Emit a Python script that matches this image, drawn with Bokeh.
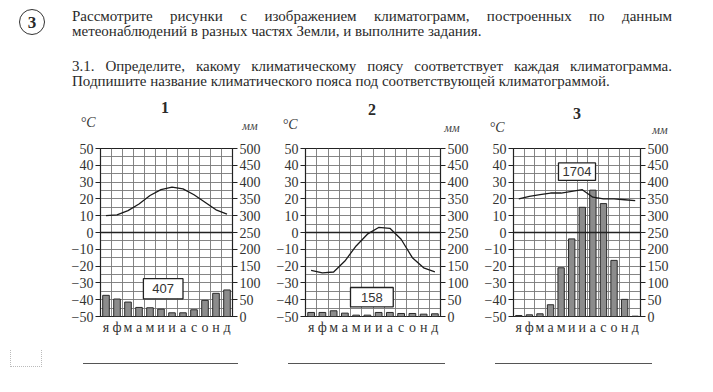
from bokeh.plotting import figure
from bokeh.models import Range1d, LinearAxis, FixedTicker, Span, Div
from bokeh.layouts import column, row
from bokeh.embed import file_html
from bokeh.resources import INLINE
from bokeh.core.properties import value

# ---------------- data ----------------
months = ["я", "ф", "м", "а", "м", "и", "и", "а", "с", "о", "н", "д"]
temp_ticks = [-50, -40, -30, -20, -10, 0, 10, 20, 30, 40, 50]
mm_ticks = [0, 50, 100, 150, 200, 250, 300, 350, 400, 450, 500]

temp_1 = [10, 10.5, 13, 17, 22, 25.5, 27, 26, 22.5, 18, 13.5, 11]
prec_1 = [63, 52, 43, 27, 26, 22, 11, 11, 20, 48, 69, 79]
total_1 = "407"

temp_2 = [-22.5, -24, -23.5, -17, -8, -1, 3, 2.5, -4, -15, -21, -23.5]
prec_2 = [12, 12, 17, 10, 4, 4, 12, 12, 9, 9, 7, 8]
total_2 = "158"

temp_3 = [20, 21.5, 22.5, 23.5, 23.5, 24.5, 25.5, 21, 20, 20, 19.5, 19]
prec_3 = [3, 5, 8, 35, 145, 231, 325, 376, 336, 167, 51, 1]
total_3 = "1704"

titles = ["1", "2", "3"]

SERIF_CSS = "'Liberation Serif', serif"
SERIF = "Liberation Serif"
NARROW = "Liberation Sans Narrow"


def chart(temps, precs, total, width, left, right, top, bottom, box):
    p = figure(width=width, height=215, output_backend="svg", toolbar_location=None,
               x_range=Range1d(0, 12), y_range=Range1d(-50, 50),
               min_border_left=left, min_border_right=right,
               min_border_top=top, min_border_bottom=bottom,
               background_fill_color="white", border_fill_color="white")
    p.outline_line_color = "#222222"
    p.outline_line_width = 1.2

    # grids
    p.xgrid.ticker = FixedTicker(ticks=list(range(0, 13)))
    p.ygrid.ticker = FixedTicker(ticks=list(range(-50, 51, 5)))
    for g in (p.xgrid, p.ygrid):
        g.grid_line_color = "#777777"
        g.grid_line_width = 0.9

    # x axis (months)
    xa = p.xaxis[0]
    xa.ticker = FixedTicker(ticks=[i + 0.5 for i in range(12)])
    xa.major_label_overrides = {i + 0.5: m for i, m in enumerate(months)}
    xa.axis_line_color = None
    xa.major_tick_line_color = None
    xa.major_tick_out = 0
    xa.major_tick_in = 0
    xa.minor_tick_line_color = None
    xa.minor_tick_out = 0
    xa.major_label_text_font = SERIF
    xa.major_label_text_font_size = "14px"
    xa.major_label_text_color = "#333333"
    xa.major_label_standoff = 3

    # left axis (°C)
    ya = p.yaxis[0]
    ya.ticker = FixedTicker(ticks=temp_ticks)
    ya.major_label_overrides = {t: ("\u2212" + str(abs(t)) if t < 0 else str(t)) for t in temp_ticks}
    ya.axis_line_color = "#222222"
    ya.major_tick_out = 5
    ya.major_tick_in = 0
    ya.major_tick_line_color = "#222222"
    ya.minor_tick_line_color = None
    ya.major_label_text_font = NARROW
    ya.major_label_text_font_size = "14px"
    ya.major_label_text_color = "#333333"
    ya.major_label_standoff = 2

    # right axis (mm)
    p.extra_y_ranges = {"mm": Range1d(0, 500)}
    ra = LinearAxis(y_range_name="mm", ticker=FixedTicker(ticks=mm_ticks))
    ra.axis_line_color = "#222222"
    ra.major_tick_out = 5
    ra.major_tick_in = 0
    ra.major_tick_line_color = "#222222"
    ra.minor_tick_line_color = None
    ra.major_label_text_font = NARROW
    ra.major_label_text_font_size = "14px"
    ra.major_label_text_color = "#333333"
    ra.major_label_standoff = 2
    p.add_layout(ra, "right")

    p.add_layout(Span(location=0, dimension="width", line_color="#222222", line_width=1.3))

    # precipitation bars
    xs = [i + 0.5 for i in range(12)]
    p.vbar(x=xs, width=0.6, bottom=0, top=precs, y_range_name="mm",
           fill_color="#8c8c8c", line_color="#2a2a2a", line_width=1)

    # temperature line
    p.line(x=xs, y=temps, line_color="#1a1a1a", line_width=1.3)

    # annual total box
    bx, by, bw, bh = box
    p.rect(x=[bx], y=[by], width=[bw], height=[bh], fill_color="white",
           line_color="#222222", line_width=1.3)
    p.text(x=[bx], y=[by], text=[total], text_align="center", text_baseline="middle",
           text_font=value("Liberation Sans"), text_font_size="13px", text_color="#333333")
    return p


f1 = chart(temp_1, prec_1, total_1, 270, 100, 38, 8, 34, (5.7, -33.5, 3.6, 12))
f2 = chart(temp_2, prec_2, total_2, 208, 35, 38, 10, 32, (5.9, -38.5, 3.8, 11.5))
f3 = chart(temp_3, prec_3, total_3, 202, 35, 40, 13, 28, (6.0, 36.2, 3.5, 10.4))


def mark(x, y, txt, size, style=""):
    return (f'<div style="position:absolute;left:{x}px;top:{y}px;transform:translate(-50%,-50%);'
            f'font-size:{size}px;line-height:1;white-space:nowrap;{style}">{txt}</div>')


heads = "".join([
    mark(165, 108, titles[0], 16, "font-weight:bold;"),
    mark(372, 110, titles[1], 16, "font-weight:bold;"),
    mark(577, 114, titles[2], 16, "font-weight:bold;"),
    mark(88, 123, "°C", 14, "font-style:italic;color:#333;"),
    mark(290, 125, "°C", 14, "font-style:italic;color:#333;"),
    mark(497, 128, "°C", 14, "font-style:italic;color:#333;"),
    mark(250, 126, "мм", 12, "font-style:italic;color:#444;"),
    mark(452, 128, "мм", 12, "font-style:italic;color:#444;"),
    mark(660, 130, "мм", 12, "font-style:italic;color:#444;"),
])

header_html = f"""
<div style="position:relative;width:697px;height:135px;font-family:{SERIF_CSS};color:#2a2a2a;">
  <div style="position:absolute;left:19px;top:9px;width:26px;height:26px;border:1.3px solid #333;
       border-radius:50%;text-align:center;line-height:26px;font-weight:bold;font-size:17px;">3</div>
  <div style="position:absolute;left:72px;top:8px;width:600px;font-size:15px;line-height:16px;
       text-align:justify;text-align-last:justify;">Рассмотрите рисунки с изображением климатограмм, построенных по данным</div>
  <div style="position:absolute;left:72px;top:23px;font-size:15px;line-height:16px;white-space:nowrap;">метеонаблюдений в разных частях Земли, и выполните задания.</div>
  <div style="position:absolute;left:72px;top:58px;width:600px;font-size:15px;line-height:16px;
       text-align:justify;text-align-last:justify;">3.1. Определите, какому климатическому поясу соответствует каждая климатограмма.</div>
  <div style="position:absolute;left:72px;top:73px;font-size:15px;line-height:16px;white-space:nowrap;">Подпишите название климатического пояса под соответствующей климатограммой.</div>
  {heads}
</div>
"""
header = Div(text=header_html, width=697, height=135, margin=0)

footer_html = """
<div style="position:relative;width:697px;height:40px;">
  <div style="position:absolute;left:10px;top:0px;width:32px;height:17px;border:1px dotted #bbbbbb;border-top:none;"></div>
  <div style="position:absolute;left:83px;top:13px;width:155px;border-top:1px solid #555;"></div>
  <div style="position:absolute;left:288px;top:13px;width:157px;border-top:1px solid #555;"></div>
  <div style="position:absolute;left:495px;top:13px;width:157px;border-top:1px solid #555;"></div>
</div>
"""
footer = Div(text=footer_html, width=697, height=40, margin=0)

layout = column(header, row(f1, f2, f3, spacing=0), footer, spacing=0)

open("out.html", "w").write(file_html(layout, INLINE))
